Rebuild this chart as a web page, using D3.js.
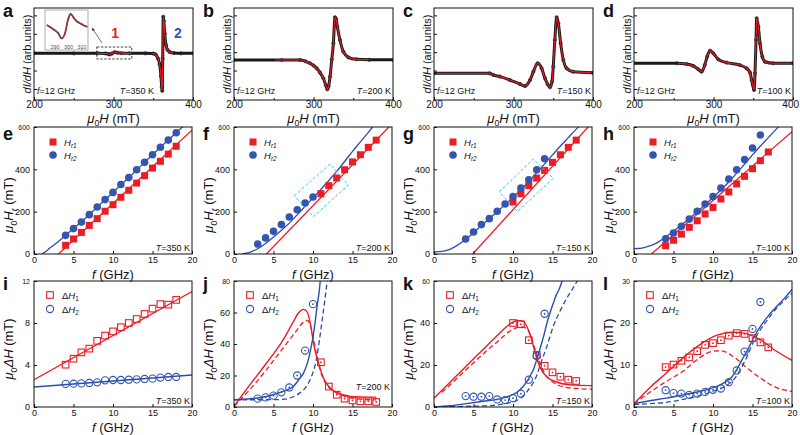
<!DOCTYPE html>
<html><head><meta charset="utf-8">
<script src="https://cdn.jsdelivr.net/npm/d3@7"></script>
<style>
body{margin:0;background:#fff}
svg{display:block;font-family:"Liberation Sans",Arial,Helvetica,sans-serif}
</style></head><body>
<svg id="c" width="800" height="435"></svg>
<script>
// ---------------- DATA ----------------
// Row 1: ESR spectra dI/dH (arb. units, normalised 0..1) vs mu0H (mT)
const specA = [[200,.507],[250,.507],[280,.507],[290,.506],[293,.502],[295,.495],[298,.505],[301.6,.52],[305,.514],[310,.509],[320,.507],[340,.507],[350,.505],[353,.495],[356,.45],[358,.39],[359.7,.26],[360.7,.14],[361.3,.10],[361.9,.45],[362.6,.905],[363.3,.86],[364.5,.72],[366,.60],[368,.545],[371,.52],[376,.51],[385,.507],[400,.507]];
const insetA = [[283.9,.625],[286,.58],[288.7,.52],[292.4,.42],[295,.29],[297.4,.42],[299.9,.79],[301.6,.9],[304.1,.79],[306,.72],[308.5,.67],[311,.62],[313.9,.58]];
const specB = [[200,.435],[260,.435],[283,.435],[290,.42],[295.6,.399],[300,.375],[304,.344],[308,.30],[312.4,.236],[315.5,.16],[317.4,.116],[319,.15],[320.8,.254],[323,.44],[325,.616],[327,.899],[328.5,.88],[330,.797],[333.3,.652],[337.5,.525],[343.8,.464],[354,.442],[370,.437],[400,.437]];
const specC = [[200,.29],[270,.29],[274.6,.272],[283,.254],[295.6,.217],[308,.174],[314.5,.152],[320.8,.217],[325,.308],[330.4,.399],[335.4,.344],[339.6,.236],[343,.17],[346,.138],[348.5,.2],[350,.362],[352,.652],[354.3,.899],[356.4,.833],[359.3,.616],[362.7,.435],[366.9,.344],[375,.308],[400,.297]];
const specD = [[200,.399],[253.7,.399],[266,.391],[274.6,.37],[281,.333],[285,.308],[289,.38],[292,.471],[295.6,.536],[299.8,.507],[306,.442],[316.6,.406],[333,.38],[341.7,.344],[346,.297],[348,.217],[351,.109],[352.2,.29],[353.5,.652],[354.3,.888],[356.4,.797],[358.5,.616],[361.4,.471],[364.8,.416],[375,.399],[400,.399]];
const fitRangeA = [[279,323],[349,375]];
const fitRangeB = [[252,370]];
const fitRangeC = [[203,398]];
const fitRangeD = [[255,398]];
const boxA = [279, 323, 0.446, 0.576];
const arrowA = [[285.5, 0.62], [273, 0.783]];
const insetTicks = [290, 300, 310];
const spectrumTemps = ["350", "200", "150", "100"];
const specXTicks = [200, 300, 400];

// Row 2: resonance fields mu0Hr (mT) vs f (GHz)
const hr1_350 = [[4,41],[5,71],[6,102],[7,135],[8,167],[9,202],[10,233],[11,268],[12,301],[13,335],[14,370],[15,406],[16,438],[17,472],[18,509]];
const hr2_350 = [[4,88],[5,120],[6,151],[7,186],[8,222],[9,257],[10,291],[11,328],[12,361],[13,398],[14,433],[15,469],[16,504],[17,538],[18,573]];
const fit1_350 = [[3.1,0],[20,585]];
const fit2_350 = [[1,0],[1.5,12],[2,28],[3,57],[4,88],[6,152],[8,222],[10,291],[12,361],[14,433],[16,504],[18,573],[20,642]];
const hr1_200 = [[11,285],[12,323],[13,359],[14,398],[15,435],[16,469],[17,504],[18,538]];
const hr2_200 = [[3,47],[4,76],[5,107],[6,139],[7,175],[8,209],[9,241],[10,269]];
const fit1_200 = [[4.1,0],[20,615]];
const fit2_200 = [[1,0],[2,8],[3,25],[4,50],[5,80],[6,112],[7,146],[8,185],[9,225],[10,265],[11,305],[12,347],[13,390],[14,437],[15,485],[16,530],[17,575],[18,620]];
const box_200 = [[7.63,275],[12.15,425],[14.47,326],[10.04,176]];
const hr1_150 = [[10,246],[11,285],[12,323],[13,359],[14,395],[15,433],[16,469],[17,504],[18,538]];
const hr2_150 = [[4,71],[5,104],[6,139],[7,167],[8,202],[9,236],[10,272],[11,312],[12,351],[13,398],[14,450]];
const fit1_150 = [[4.9,0],[20,620]];
const fit2_150 = [[0,9],[1,12],[2,22],[3,42],[4,68],[5,100],[6,134],[7,167],[8,200],[9,234],[10,268],[11,305],[12,343],[13,384],[14,426],[15,468],[16,510],[17,550],[18,590],[19,628]];
const box_150 = [[8.27,294],[12.57,449],[15.1,358],[10.54,200]];
const hr1_100 = [[4,39],[5,65],[6,94],[7,126],[8,157],[9,189],[10,220],[11,260],[12,293],[13,331],[14,367],[15,403],[16,441],[17,482]];
const hr2_100 = [[4,72],[5,99],[6,131],[7,165],[8,202],[9,236],[10,272],[11,312],[12,354],[13,398],[14,446],[15,501],[16,562]];
const fit1_100 = [[2.2,0],[20,578]];
const fit2_100 = [[0,25],[1,28],[2,38],[3,55],[4,80],[5,107],[6,137],[7,168],[8,200],[9,233],[10,267],[11,302],[12,340],[13,382],[14,425],[15,468],[16,510],[17,550],[18,590],[19,630]];
const freqTicks = [0, 5, 10, 15, 20];
const hrTicks = [0, 200, 400, 600];

// Row 3: linewidths mu0 dH (mT) vs f (GHz)
const dh1_350 = [[4,4.03],[5,4.6],[6,5.2],[7,5.56],[8,6.3],[9,6.8],[10,7.2],[11,7.6],[12,8.0],[13,8.38],[14,8.86],[15,9.37],[16,9.8],[17,9.75],[18,10.2]];
const dh2_350 = [[4,2.2],[5,2.22],[6,2.25],[7,2.29],[8,2.35],[9,2.54],[10,2.57],[11,2.57],[12,2.6],[13,2.63],[14,2.67],[15,2.7],[16,2.8],[17,2.86],[18,2.86]];
const dfit1_350 = [[0,2.6],[20,11.0]];
const dfit2_350 = [[0,1.9],[20,3.05]];
const dh1_200 = [[11,28.4],[12,13],[13,7.8],[14,5.3],[15,4.2],[16,3.6],[17,3.6],[18,3.2]];
const dh2_200 = [[3,5.3],[4,6.1],[5,7.2],[6,9.3],[7,12.4],[8,20],[9,35.8],[10,65.3]];
const dfit1_200 = [[0,0.5],[2,14],[4.1,27.8],[6.2,42.5],[7.5,54],[8.2,60],[8.8,62],[9.3,60],[9.7,52],[10,42.5],[10.3,35],[10.7,27.8],[11.2,20],[11.7,15],[12.3,11.5],[13,9.3],[14.7,6.7],[16,6.4],[18,6.3]];
const ddash1_200 = [[0,0.5],[2,11],[4,23],[6,36],[8,49],[8.8,54],[9.3,55],[9.7,51],[10,45],[10.3,37],[10.7,28],[11,22],[11.5,16],[12,12.5],[13,9],[14,6.8],[16,5],[18,4.5]];
const dfit2_200 = [[0,4.6],[2,5.2],[4.1,6.7],[6.2,9.9],[7.5,13],[8.3,18],[8.8,21.5],[9.3,28],[9.6,34],[10,44.6],[10.3,55],[10.5,63.6],[10.8,74],[10.95,82]];
const ddash2_200 = [[0,4.6],[3,4.6],[6.2,4.8],[7.5,6.5],[8.3,8.8],[9,12],[9.6,17],[10,22],[10.5,32],[10.8,42],[11.1,53],[11.5,68],[11.8,80],[11.9,84]];
const dh1_150 = [[10,40],[11,39.4],[12,31.8],[13,24.8],[14,19.6],[15,16.5],[16,14.4],[17,13],[18,12.4]];
const dh2_150 = [[4,5.2],[5,4.9],[6,4.9],[7,5.2],[8,3.6],[9,3.3],[10,4.2],[11,6.3],[12,13],[13,24.3],[14,44.4]];
const dfit1_150 = [[0,4.2],[2,11.7],[4,19.2],[6,26.6],[8,34],[9.6,39.5],[10.5,41.2],[11.3,40.8],[11.8,38],[12.3,33],[12.8,26],[13.4,19],[14.3,14.3],[15.6,11.8],[16.8,10.7],[18,10.4],[20,10.2]];
const ddash1_150 = [[1,7],[2,10.5],[4,17.5],[6,24.5],[8,31],[10,37],[11,38.3],[11.8,37],[12.4,32],[13,25],[13.6,19],[14.3,14.5],[15,12],[16,10],[18,8.8],[20,8.5]];
const dfit2_150 = [[0,0],[2,0.6],[4.1,1.6],[6,2.6],[8.3,3.9],[9.5,5.2],[10.5,7],[11.2,9.4],[11.7,11.8],[12.2,15],[12.6,18],[13,22.5],[13.4,27.5],[13.9,34],[14.3,40],[14.7,45],[15.1,49.4],[15.5,53.5],[15.8,55.7],[16.3,61]];
const ddash2_150 = [[0,0],[4,0.3],[6.2,0.5],[8.3,1.1],[9.5,2],[10.5,3.1],[11.2,5],[11.7,7],[12.2,9.5],[12.6,11.8],[13,15],[13.4,19.6],[14.3,29],[15.1,38.4],[16,46],[16.8,51.8],[17.5,56],[18.2,60.5]];
const dh1_100 = [[4,9.5],[5,10.1],[6,11],[7,11.8],[8,13.3],[9,14.8],[10,15.2],[11,15.9],[12,17],[13,17.6],[14,17.4],[15,16.4],[16,15.4],[17,14.2]];
const dh2_100 = [[4,4.0],[5,3.3],[6,3.2],[7,2.9],[8,3.2],[9,3.6],[10,4.1],[11,4.4],[12,5.9],[13,8.7],[14,13.2],[15,18.6],[16,25]];
const dfit1_100 = [[0,0.8],[2,4.6],[4.1,8.1],[6.2,11.7],[8.3,14.8],[10.5,17.1],[12.6,17.8],[13.9,17.6],[16,16],[17.7,13.7],[20,11.1]];
const ddash1_100 = [[0,0.8],[2,3.5],[4.1,6.1],[6.2,8.5],[8.3,11.7],[10,13.3],[10.9,13.4],[12.6,12],[14.3,9.3],[16,6.9],[17.7,4.9],[20,3.7]];
const dfit2_100 = [[0,0.8],[2,1.5],[4.1,2.1],[6.2,2.9],[8.3,3.7],[10.5,4.9],[11.7,6.1],[12.4,7.2],[13,8.9],[13.6,11],[14.3,13.3],[15.1,16.3],[16,19.2],[17,21.7],[17.7,23.2],[19,25.8],[20,28]];
const ddash2_100 = [[0,0.6],[2,0.8],[4.1,1.1],[6.2,1.8],[8.3,2.7],[10.5,4.1],[11.6,5],[12.6,6.5],[13.5,9],[14.3,12],[15.1,15.4],[16,18.4],[17,21],[17.7,22.8],[19,25.3],[20,27.1]];
const dhMax = [12, 80, 60, 30];
const dhTicks350 = [0, 4, 8, 12];
const dhTicks200 = [0, 20, 40, 60, 80];
const dhTicks150 = [0, 20, 40, 60];
const dhTicks100 = [0, 10, 20, 30];
const letters = ["a","b","c","d","e","f","g","h","i","j","k","l"];

// ---------------- DRAWING ----------------
const RED = "#ec1c24", BLUE = "#2c4ea6", BLUEM = "#3455b0", CYAN = "#3cc4ee", INK = "#111";
const svg = d3.select("#c");
const colX = [0, 200, 400, 600];
let clipId = 0;

function rich(parent, x, y, parts, o) {
  const t = parent.append("text").attr("x", x).attr("y", y)
    .attr("font-size", o.fs).attr("text-anchor", o.anchor || "start")
    .attr("fill", o.fill || INK);
  if (o.bold) t.attr("font-weight", "bold");
  if (o.rotate) t.attr("transform", `rotate(-90,${x},${y})`);
  let shift = 0;
  parts.forEach(p => {
    const ts = t.append("tspan").text(p[0]);
    const fl = p[1] || "";
    if (fl.includes("i")) ts.attr("font-style", "italic");
    const want = fl.includes("s") ? o.fs * 0.3 : 0;
    if (want !== shift) { ts.attr("dy", want - shift); shift = want; }
    if (fl.includes("s")) ts.attr("font-size", o.fs * 0.68);
  });
  return t;
}

function makeClip(x0, y0, x1, y1) {
  const id = "cl" + (clipId++);
  svg.append("clipPath").attr("id", id).append("rect")
    .attr("x", x0).attr("y", y0).attr("width", x1 - x0).attr("height", y1 - y0);
  return `url(#${id})`;
}

function frame(g, x, y) {
  const [x0, x1] = x.range(), [y0, y1] = y.range();
  g.append("rect").attr("x", x0).attr("y", y1).attr("width", x1 - x0).attr("height", y0 - y1)
    .attr("fill", "none").attr("stroke", INK).attr("stroke-width", 1);
}

function bottomAxis(g, x, y, ticks, fs, pad, showLabels) {
  const ax = d3.axisBottom(x).tickValues(ticks).tickSizeInner(-3).tickSizeOuter(0).tickPadding(pad)
    .tickFormat(showLabels ? d3.format("d") : "");
  const gx = g.append("g").attr("transform", `translate(0,${y.range()[0]})`).call(ax);
  gx.select(".domain").remove();
  gx.selectAll("line").attr("stroke", INK);
  gx.selectAll("text").attr("font-size", fs).attr("fill", INK).attr("font-family", null);
  return gx;
}
function leftAxis(g, x, y, ticks, fs, pad, showLabels) {
  const ax = d3.axisLeft(y).tickValues(ticks).tickSizeInner(-3).tickSizeOuter(0).tickPadding(pad)
    .tickFormat(showLabels ? d3.format("d") : "");
  const gy = g.append("g").attr("transform", `translate(${x.range()[0]},0)`).call(ax);
  gy.select(".domain").remove();
  gy.selectAll("line").attr("stroke", INK);
  gy.selectAll("text").attr("font-size", fs).attr("fill", INK).attr("font-family", null);
  const top = d3.max(ticks);
  gy.selectAll(".tick").filter(d => d === top).select("text").attr("font-size", fs * 0.78);
  return gy;
}

// ---- Row 1 ----
const spectra = [specA, specB, specC, specD];
const fitRanges = [fitRangeA, fitRangeB, fitRangeC, fitRangeD];
spectra.forEach((data, i) => {
  const ox = colX[i];
  const g = svg.append("g");
  const x = d3.scaleLinear().domain([200, 400]).range([ox + 34, ox + 193]);
  const y = d3.scaleLinear().domain([0, 1]).range([100, 8]);
  const clip = makeClip(ox + 34, 8, ox + 193, 100);
  const line = d3.line().x(d => x(d[0])).y(d => y(d[1])).curve(d3.curveMonotoneX);
  const pg = g.append("g").attr("clip-path", clip);
  pg.append("path").datum(data).attr("d", line).attr("fill", "none")
    .attr("stroke", "#1a1a1a").attr("stroke-width", 3);
  pg.selectAll("circle.pt").data(data).join("circle").attr("cx", d => x(d[0])).attr("cy", d => y(d[1]))
    .attr("r", 1.6).attr("fill", "none").attr("stroke", "#222").attr("stroke-width", 0.8);
  fitRanges[i].forEach(r => {
    const c2 = makeClip(x(r[0]), 8, x(r[1]), 100);
    g.append("path").datum(data).attr("d", line).attr("clip-path", c2).attr("fill", "none")
      .attr("stroke", RED).attr("stroke-width", 1.1);
  });
  frame(g, x, y);
  const gx = bottomAxis(g, x, y, specXTicks, 10, 1, true);
  if (i === 3) gx.selectAll(".tick").filter(d => d === 400).select("text").attr("dx", -2.8);
  bottomAxis(g, x, y, [250, 350], 10, 1, false).selectAll("line").attr("y2", -2);
  leftAxis(g, x, y, [0.12, 0.32, 0.52, 0.72, 0.92], 10, 2, false);
  rich(g, ox + 31, 54, [["dI/dH", "i"], [" (arb.units)"]], { fs: 11, anchor: "middle", rotate: true });
  rich(g, (ox + 34 + ox + 193) / 2, 122.5, [["μ", "i"], ["0", "s"], ["H", "i"], [" (mT)"]], { fs: 13, anchor: "middle" });
  rich(g, ox + 37, 94, [["f", "i"], ["=12 GHz"]], { fs: 9 });
  if (i === 0) {
    rich(g, ox + 154, 94, [["T", "i"], ["=" + spectrumTemps[i] + " K"]], { fs: 9, anchor: "end" });
    g.append("rect").attr("x", x(boxA[0])).attr("y", y(boxA[3])).attr("width", x(boxA[1]) - x(boxA[0]))
      .attr("height", y(boxA[2]) - y(boxA[3])).attr("fill", "none").attr("stroke", INK)
      .attr("stroke-width", 0.8).attr("stroke-dasharray", "2.5,1.5");
    svg.append("defs").append("marker").attr("id", "arr").attr("viewBox", "0 0 10 10").attr("refX", 9).attr("refY", 5)
      .attr("markerWidth", 5).attr("markerHeight", 5).attr("orient", "auto")
      .append("path").attr("d", "M0,1 L10,5 L0,9 z").attr("fill", "#333");
    g.append("line").attr("x1", x(arrowA[0][0])).attr("y1", y(arrowA[0][1]))
      .attr("x2", x(arrowA[1][0])).attr("y2", y(arrowA[1][1]))
      .attr("stroke", "#333").attr("stroke-width", 0.7).attr("marker-end", "url(#arr)");
    g.append("text").attr("x", x(302)).attr("y", y(0.674)).attr("text-anchor", "middle")
      .attr("font-size", 14).attr("font-weight", "bold").attr("fill", RED).text("1");
    g.append("text").attr("x", x(381)).attr("y", y(0.674)).attr("text-anchor", "middle")
      .attr("font-size", 14).attr("font-weight", "bold").attr("fill", BLUEM).text("2");
    const ix = d3.scaleLinear().domain([282.6, 314.4]).range([ox + 45, ox + 88]);
    const iy = d3.scaleLinear().domain([0, 1]).range([50, 10]);
    g.append("rect").attr("x", ox + 45).attr("y", 10).attr("width", 43).attr("height", 40)
      .attr("fill", "#fff").attr("stroke", "#999").attr("stroke-width", 0.8);
    const il = d3.line().x(d => ix(d[0])).y(d => iy(d[1])).curve(d3.curveMonotoneX);
    g.append("path").datum(insetA).attr("d", il).attr("fill", "none").attr("stroke", "#444").attr("stroke-width", 1.8);
    g.append("path").datum(insetA).attr("d", il).attr("fill", "none").attr("stroke", RED).attr("stroke-width", 0.8);
    insetTicks.forEach(t => {
      g.append("text").attr("x", ix(t)).attr("y", 48.5).attr("text-anchor", "middle")
        .attr("font-size", 5.5).attr("fill", "#555").text(t);
      g.append("line").attr("x1", ix(t)).attr("x2", ix(t)).attr("y1", 50).attr("y2", 48.5).attr("stroke", "#777").attr("stroke-width", 0.5);
    });
  } else {
    rich(g, ox + 191, 94, [["T", "i"], ["=" + spectrumTemps[i] + " K"]], { fs: 9, anchor: "end" });
  }
});

// ---- Row 2 ----
const hrSets = [
  [hr1_350, hr2_350, fit1_350, fit2_350, null],
  [hr1_200, hr2_200, fit1_200, fit2_200, box_200],
  [hr1_150, hr2_150, fit1_150, fit2_150, box_150],
  [hr1_100, hr2_100, fit1_100, fit2_100, null]
];
hrSets.forEach((s, i) => {
  const ox = colX[i];
  const g = svg.append("g");
  const x = d3.scaleLinear().domain([0, 20]).range([ox + 34, ox + 192]);
  const y = d3.scaleLinear().domain([0, 600]).range([254, 127]);
  const clip = makeClip(ox + 34, 127, ox + 192, 254);
  const line = d3.line().x(d => x(d[0])).y(d => y(d[1])).curve(d3.curveMonotoneX);
  const pg = g.append("g").attr("clip-path", clip);
  pg.append("path").datum(s[2]).attr("d", line).attr("fill", "none").attr("stroke", RED).attr("stroke-width", 1.3);
  pg.append("path").datum(s[3]).attr("d", line).attr("fill", "none").attr("stroke", BLUE).attr("stroke-width", 1.3);
  pg.selectAll("rect.sq").data(s[0]).join("rect").attr("x", d => x(d[0]) - 3.5).attr("y", d => y(d[1]) - 3.5)
    .attr("width", 7).attr("height", 7).attr("fill", RED);
  g.selectAll("circle.ci").data(s[1]).join("circle").attr("cx", d => x(d[0])).attr("cy", d => y(d[1]))
    .attr("r", 3.8).attr("fill", BLUEM);
  if (s[4]) {
    g.append("path").datum(s[4]).attr("d", d3.line().x(d => x(d[0])).y(d => y(d[1])).curve(d3.curveLinearClosed))
      .attr("fill", "none").attr("stroke", CYAN).attr("stroke-width", 1).attr("stroke-dasharray", "3,2");
  }
  frame(g, x, y);
  bottomAxis(g, x, y, freqTicks, 9, 3, true);
  leftAxis(g, x, y, hrTicks, 9, 4, true);
  rich(g, ox + 13, 205, [["μ", "i"], ["0", "s"], ["H", "i"], ["r", "is"], [" (mT)"]], { fs: 13, anchor: "middle", rotate: true });
  rich(g, (ox + 34 + ox + 192) / 2, 279, [["f", "i"], [" (GHz)"]], { fs: 13, anchor: "middle" });
  rich(g, ox + 190, 251, [["T", "i"], ["=" + spectrumTemps[i] + " K"]], { fs: 9, anchor: "end" });
  g.append("rect").attr("x", ox + 53 - 3.5).attr("y", 142 - 3.5).attr("width", 7).attr("height", 7).attr("fill", RED);
  g.append("circle").attr("cx", ox + 53).attr("cy", 155).attr("r", 3.8).attr("fill", BLUEM);
  rich(g, ox + 64, 145.5, [["H", "i"], ["r1", "is"]], { fs: 9.5 });
  rich(g, ox + 64, 158.5, [["H", "i"], ["r2", "is"]], { fs: 9.5 });
});

// ---- Row 3 ----
const dhSets = [
  [dh1_350, dh2_350, dfit1_350, dfit2_350, null, null, dhTicks350],
  [dh1_200, dh2_200, dfit1_200, dfit2_200, ddash1_200, ddash2_200, dhTicks200],
  [dh1_150, dh2_150, dfit1_150, dfit2_150, ddash1_150, ddash2_150, dhTicks150],
  [dh1_100, dh2_100, dfit1_100, dfit2_100, ddash1_100, ddash2_100, dhTicks100]
];
const tLabelY = [404, 390, 404, 404];
dhSets.forEach((s, i) => {
  const ox = colX[i];
  const g = svg.append("g");
  const x = d3.scaleLinear().domain([0, 20]).range([ox + 34, ox + 192]);
  const y = d3.scaleLinear().domain([0, dhMax[i]]).range([407, 281]);
  const clip = makeClip(ox + 34, 281, ox + 192, 407);
  const line = d3.line().x(d => x(d[0])).y(d => y(d[1])).curve(d3.curveMonotoneX);
  const pg = g.append("g").attr("clip-path", clip);
  if (s[4]) pg.append("path").datum(s[4]).attr("d", line).attr("fill", "none").attr("stroke", RED).attr("stroke-width", 1.3).attr("stroke-dasharray", "5,3");
  if (s[5]) pg.append("path").datum(s[5]).attr("d", line).attr("fill", "none").attr("stroke", BLUE).attr("stroke-width", 1.3).attr("stroke-dasharray", "5,3");
  pg.append("path").datum(s[2]).attr("d", line).attr("fill", "none").attr("stroke", RED).attr("stroke-width", 1.4);
  pg.append("path").datum(s[3]).attr("d", line).attr("fill", "none").attr("stroke", BLUE).attr("stroke-width", 1.4);
  pg.selectAll("rect.sq").data(s[0]).join("rect").attr("x", d => x(d[0]) - 3.3).attr("y", d => y(d[1]) - 3.3)
    .attr("width", 6.6).attr("height", 6.6).attr("fill", "none").attr("stroke", RED).attr("stroke-width", 1.1);
  pg.selectAll("circle.ci").data(s[1]).join("circle").attr("cx", d => x(d[0])).attr("cy", d => y(d[1]))
    .attr("r", 3.6).attr("fill", "none").attr("stroke", BLUEM).attr("stroke-width", 1.1);
  if (i > 0) {
    pg.selectAll("circle.d1").data(s[0]).join("circle").attr("cx", d => x(d[0])).attr("cy", d => y(d[1])).attr("r", 0.9).attr("fill", RED);
    pg.selectAll("circle.d2").data(s[1]).join("circle").attr("cx", d => x(d[0])).attr("cy", d => y(d[1])).attr("r", 0.9).attr("fill", BLUEM);
  }
  frame(g, x, y);
  bottomAxis(g, x, y, freqTicks, 9, 3, true);
  leftAxis(g, x, y, s[6], 9, 4, true);
  rich(g, ox + 13, 349, [["μ", "i"], ["0", "s"], ["ΔH", "i"], [" (mT)"]], { fs: 13, anchor: "middle", rotate: true });
  rich(g, (ox + 34 + ox + 192) / 2, 432, [["f", "i"], [" (GHz)"]], { fs: 13, anchor: "middle" });
  rich(g, ox + 190, tLabelY[i], [["T", "i"], ["=" + spectrumTemps[i] + " K"]], { fs: 9, anchor: "end" });
  g.append("rect").attr("x", ox + 50 - 3.3).attr("y", 295 - 3.3).attr("width", 6.6).attr("height", 6.6)
    .attr("fill", "none").attr("stroke", RED).attr("stroke-width", 1.1);
  g.append("circle").attr("cx", ox + 50).attr("cy", 309).attr("r", 3.6).attr("fill", "none").attr("stroke", BLUEM).attr("stroke-width", 1.1);
  rich(g, ox + 62, 298.5, [["Δ"], ["H", "i"], ["1", "s"]], { fs: 9.5 });
  rich(g, ox + 62, 312.5, [["Δ"], ["H", "i"], ["2", "s"]], { fs: 9.5 });
});

// Panel letters
letters.forEach((L, k) => {
  const r = Math.floor(k / 4), c = k % 4;
  svg.append("text").attr("x", colX[c] + 3).attr("y", [17, 140, 290][r])
    .attr("font-size", 18).attr("font-weight", "bold").attr("fill", INK).text(L);
});
</script>
</body></html>
